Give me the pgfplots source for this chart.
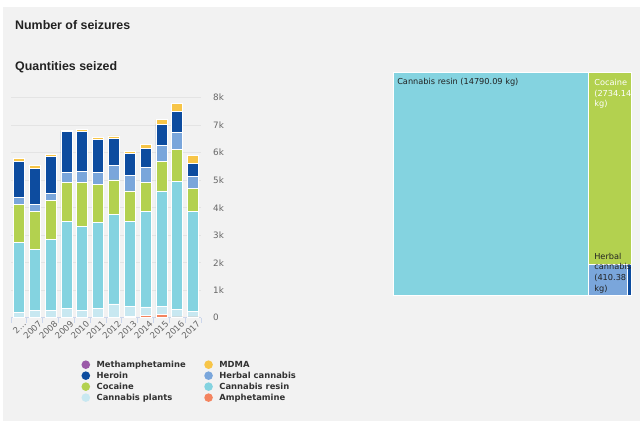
\documentclass[border=0pt]{standalone}
\usepackage{pgfplots}
\pgfplotsset{compat=1.18}
\usepackage{pgfplotstable}
\usepackage{fontspec}
\setmainfont{DejaVu Sans}
\newfontfamily\hfont{Liberation Sans}

\definecolor{panel}{HTML}{F2F2F2}
\definecolor{methc}{HTML}{9B59A8}
\definecolor{heroinc}{HTML}{0D4C9F}
\definecolor{cocainec}{HTML}{B3D14F}
\definecolor{plantsc}{HTML}{C8E8F1}
\definecolor{mdmac}{HTML}{F7C548}
\definecolor{herbalc}{HTML}{7AA6DB}
\definecolor{resinc}{HTML}{84D3E0}
\definecolor{amphc}{HTML}{F4845F}
\definecolor{gridc}{HTML}{E4E4E4}
\definecolor{axisc}{HTML}{CCD6EB}
\definecolor{tickc}{HTML}{666666}
\definecolor{legc}{HTML}{333333}
\definecolor{darkt}{HTML}{222222}

\pgfplotstableread{
x amph plants resin cocaine herbal heroin mdma meth
0  0   190 2540 1380 250 1320 120 0
1  0   280 2200 1370 280 1300 100 0
2  0   250 2600 1420 250 1360 70  0
3  0   350 3140 1430 360 1500 40  0
4  0   280 3050 1590 400 1460 80  0
5  0   350 3100 1390 430 1210 70  0
6  0   500 3260 1250 540 970  90  0
7  40  380 3080 1110 570 800  70  0
8  70  320 3490 1040 550 690  130 0
9  110 310 4190 1070 600 750  170 0
10 30  270 4670 1140 630 760  280 0
11 30  210 3640 810  440 480  290 0
}\data

\pgfplotsset{legcirc/.style={legend image code/.code={\fill[##1,draw=none] (0bp,0bp) circle (4.3bp);}}}

\begin{document}
\begin{tikzpicture}
\fill[white] (0,0) rectangle (640bp,421bp);
\fill[panel] (3bp,0) rectangle (640bp,414bp);
\node[anchor=west, inner sep=0, font=\hfont\bfseries\fontsize{12.4bp}{14bp}\selectfont, text=darkt] at (15bp,396bp) {Number of seizures};
\node[anchor=west, inner sep=0, font=\hfont\bfseries\fontsize{12.4bp}{14bp}\selectfont, text=darkt] at (15bp,353.3bp) {Quantities seized};

\begin{axis}[
  at={(11bp,103.3bp)}, anchor=south west,
  scale only axis, width=190bp, height=220bp,
  ybar stacked, bar width=11bp,
  xmin=-0.5, xmax=11.5, ymin=0, ymax=8000,
  axis line style={draw=none},
  xtick={0,...,11},
  xticklabels={{2…},2007,2008,2009,2010,2011,2012,2013,2014,2015,2016,2017},
  minor xtick={-0.5,0.5,...,11.5},
  xtick pos=bottom, xtick align=outside,
  major tick length=0pt, minor tick length=5bp,
  minor x tick style={draw=axisc, line width=0.8bp},
  major x tick style={draw=none},
  xticklabel style={rotate=45, anchor=east, font=\fontsize{8.6bp}{9bp}\selectfont, text=tickc, yshift=-7bp, xshift=2bp, inner sep=1bp},
  ytick={0,1000,...,8000},
  yticklabels={0,1k,2k,3k,4k,5k,6k,7k,8k},
  yticklabel pos=right, ytick style={draw=none},
  yticklabel style={anchor=west, font=\fontsize{8.8bp}{9bp}\selectfont, text=tickc, xshift=12bp, inner sep=0bp},
  ymajorgrids, major grid style={draw=gridc, line width=0.6bp},
  every axis plot/.append style={draw=white, line width=0.7bp},
  reverse legend,
  legend columns=2,
  legend cell align=left,
  legend style={at={(axis description cs:0.37,-0.188)}, anchor=north west, draw=none, fill=none,
    font=\bfseries\fontsize{8.4bp}{9bp}\selectfont, text=legc,
    row sep=0.1bp, inner sep=0bp,
    nodes={inner sep=1.5bp},
    /tikz/every odd column/.append style={column sep=5bp},
    /tikz/every even column/.append style={column sep=17bp}},
]
\addplot[fill=amphc, legcirc] table[x=x,y=amph] {\data};
\addlegendentry{Amphetamine}
\addplot[fill=plantsc, legcirc] table[x=x,y=plants] {\data};
\addlegendentry{Cannabis plants}
\addplot[fill=resinc, legcirc] table[x=x,y=resin] {\data};
\addlegendentry{Cannabis resin}
\addplot[fill=cocainec, legcirc] table[x=x,y=cocaine] {\data};
\addlegendentry{Cocaine}
\addplot[fill=herbalc, legcirc] table[x=x,y=herbal] {\data};
\addlegendentry{Herbal cannabis}
\addplot[fill=heroinc, legcirc] table[x=x,y=heroin] {\data};
\addlegendentry{Heroin}
\addplot[fill=mdmac, legcirc] table[x=x,y=mdma] {\data};
\addlegendentry{MDMA}
\addplot[fill=methc, legcirc] table[x=x,y=meth] {\data};
\addlegendentry{Methamphetamine}
\draw[axisc, line width=0.8bp] (axis cs:-0.5,0) -- (axis cs:11.5,0);
\end{axis}

\begin{axis}[
  at={(393bp,125.3bp)}, anchor=south west,
  scale only axis, width=238bp, height=223bp,
  xmin=0, xmax=17972.61, ymin=0, ymax=1,
  hide axis, clip=false,
  every axis plot/.append style={draw=white, line width=1bp},
]
\addplot[fill=resinc] coordinates {(0,0) (14790.09,0) (14790.09,1) (0,1)} -- cycle;
\addplot[fill=cocainec] coordinates {(14790.09,0.1409) (17972.61,0.1409) (17972.61,1) (14790.09,1)} -- cycle;
\addplot[fill=herbalc] coordinates {(14790.09,0) (17702.9,0) (17702.9,0.1409) (14790.09,0.1409)} -- cycle;
\addplot[fill=heroinc] coordinates {(17702.9,0) (17972.61,0) (17972.61,0.1409) (17702.9,0.1409)} -- cycle;
\node[anchor=west, inner sep=0, font=\fontsize{8.2bp}{10.8bp}\selectfont, text=darkt] at (axis description cs:0.017,0.955) {Cannabis resin (14790.09 kg)};
\node[anchor=north west, inner sep=0, align=left, font=\fontsize{8.2bp}{10.8bp}\selectfont, text=white] at (axis description cs:0.845,0.972) {Cocaine\\(2734.14\\kg)};
\node[anchor=north west, inner sep=0, align=left, font=\fontsize{8.2bp}{10.8bp}\selectfont, text=darkt] at (axis description cs:0.845,0.193) {Herbal\\cannabis\\(410.38\\kg)};
\end{axis}
\end{tikzpicture}
\end{document}
